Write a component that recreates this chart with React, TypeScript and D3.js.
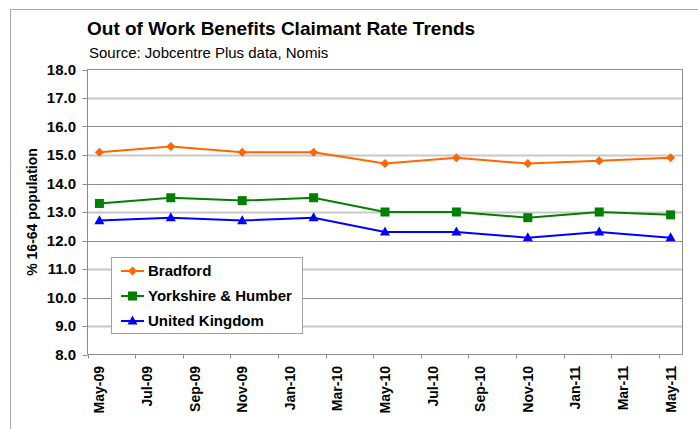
import React from "react";
import * as d3 from "d3";

const months = ["May-09","Jun-09","Jul-09","Aug-09","Sep-09","Oct-09","Nov-09","Dec-09","Jan-10","Feb-10","Mar-10","Apr-10","May-10","Jun-10","Jul-10","Aug-10","Sep-10","Oct-10","Nov-10","Dec-10","Jan-11","Feb-11","Mar-11","Apr-11","May-11"];
const tickLabels = ["May-09","Jul-09","Sep-09","Nov-09","Jan-10","Mar-10","May-10","Jul-10","Sep-10","Nov-10","Jan-11","Mar-11","May-11"];
const dataMonths = ["May-09","Aug-09","Nov-09","Feb-10","May-10","Aug-10","Nov-10","Feb-11","May-11"];
const bradford = [15.1, 15.3, 15.1, 15.1, 14.7, 14.9, 14.7, 14.8, 14.9];
const yorkshire = [13.3, 13.5, 13.4, 13.5, 13.0, 13.0, 12.8, 13.0, 12.9];
const uk = [12.7, 12.8, 12.7, 12.8, 12.3, 12.3, 12.1, 12.3, 12.1];
const yTicks = [8, 9, 10, 11, 12, 13, 14, 15, 16, 17, 18];
const seriesNames = ["Bradford", "Yorkshire & Humber", "United Kingdom"];

const FONT = "'Liberation Sans', Arial, sans-serif";

export default function App() {
  const left = 87.5, right = 682.5, top = 69.5, bottom = 354.5;
  const x = d3.scaleBand<string>().domain(months).range([left, right]).padding(0);
  const y = d3.scaleLinear().domain([8, 18]).range([bottom, top]);
  const cx = (m: string) => (x(m) as number) + x.bandwidth() / 2;

  const series = [
    { name: seriesNames[0], values: bradford, color: "#FF6600", marker: "diamond" },
    { name: seriesNames[1], values: yorkshire, color: "#008000", marker: "square" },
    { name: seriesNames[2], values: uk, color: "#0000FF", marker: "triangle" },
  ];

  const line = d3.line<number>().x((_, i) => cx(dataMonths[i])).y((v) => y(v));

  const marker = (type: string, px: number, py: number, color: string, key: string) => {
    if (type === "diamond") {
      const r = 4.5;
      return <path key={key} d={`M${px},${py - r}L${px + r},${py}L${px},${py + r}L${px - r},${py}Z`} fill={color} />;
    }
    if (type === "square") {
      const s = 9;
      return <rect key={key} x={px - s / 2} y={py - s / 2} width={s} height={s} fill={color} />;
    }
    const h = 9, w = 10;
    return <path key={key} d={`M${px},${py - h * 0.6}L${px + w / 2},${py + h * 0.4}L${px - w / 2},${py + h * 0.4}Z`} fill={color} />;
  };

  const legendItems = [271, 296, 321];

  return (
    <svg width={698} height={429} style={{ position: "absolute", left: 0, top: 0, background: "#fff" }} fontFamily={FONT}>
      <rect x={10.5} y={9.5} width={720} height={440} fill="#fff" stroke="#a8a8a8" strokeWidth={1} />
      <text x={87} y={35} fontSize={19} fontWeight="bold" fill="#000">Out of Work Benefits Claimant Rate Trends</text>
      <text x={89} y={58} fontSize={15} fill="#000">Source: Jobcentre Plus data, Nomis</text>

      {yTicks.filter((t) => t > 8 && t < 18).map((t) => (
        <line key={"g" + t} x1={left} x2={right} y1={Math.round(y(t)) + 0.5} y2={Math.round(y(t)) + 0.5}
          stroke={t % 2 === 1 ? "#c8c8c8" : "#8c8c8c"} strokeWidth={t % 2 === 1 ? 2 : 1} />
      ))}
      <line x1={left} x2={right} y1={top} y2={top} stroke="#8c8c8c" />
      <line x1={right} x2={right} y1={top} y2={bottom} stroke="#8c8c8c" />
      <line x1={left} x2={left} y1={top} y2={bottom} stroke="#8c8c8c" />
      <line x1={left} x2={right} y1={bottom} y2={bottom} stroke="#8c8c8c" />

      {yTicks.map((t) => (
        <g key={"yt" + t}>
          <line x1={left - 5} x2={left} y1={Math.round(y(t)) + 0.5} y2={Math.round(y(t)) + 0.5} stroke="#8c8c8c" />
          <text x={76} y={y(t)} dy="0.36em" textAnchor="end" fontSize={15} fontWeight="bold">{t.toFixed(1)}</text>
        </g>
      ))}

      {tickLabels.map((m) => {
        const tx = Math.round(x(m) as number) + 0.5;
        return (
          <g key={"xt" + m}>
            <line x1={tx} x2={tx} y1={bottom} y2={bottom + 4} stroke="#8c8c8c" />
            <text transform={`translate(${cx(m)},366) rotate(-90)`} dy="0.36em" textAnchor="end" fontSize={14} fontWeight="bold">{m}</text>
          </g>
        );
      })}

      <text transform="translate(37,212) rotate(-90)" textAnchor="middle" fontSize={14} fontWeight="bold">% 16-64 population</text>

      {series.map((s) => (
        <g key={s.name}>
          <path d={line(s.values) as string} fill="none" stroke={s.color} strokeWidth={2} />
          {s.values.map((v, i) => marker(s.marker, cx(dataMonths[i]), y(v), s.color, s.name + i))}
        </g>
      ))}

      <rect x={111.5} y={257.5} width={191} height={76} fill="#fff" stroke="#a0a0a0" />
      {series.map((s, i) => (
        <g key={"lg" + s.name}>
          <line x1={121} x2={144} y1={legendItems[i]} y2={legendItems[i]} stroke={s.color} strokeWidth={2} />
          {marker(s.marker, 132.5, legendItems[i], s.color, "lm" + i)}
          <text x={148} y={legendItems[i]} dy="0.36em" fontSize={15} fontWeight="bold">{s.name}</text>
        </g>
      ))}
    </svg>
  );
}
